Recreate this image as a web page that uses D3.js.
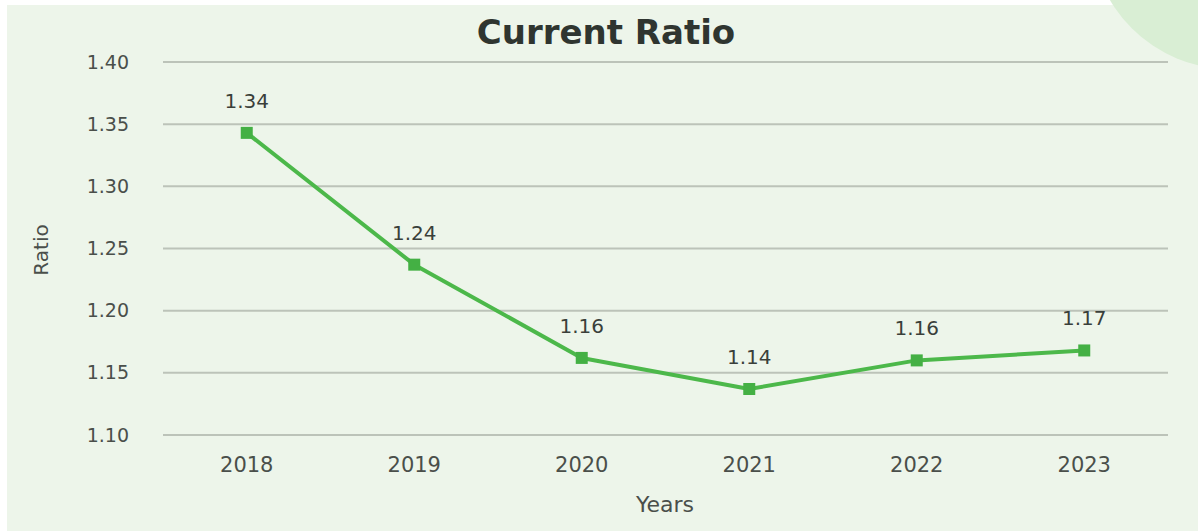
<!DOCTYPE html>
<html>
<head>
<meta charset="utf-8">
<script src="https://cdn.jsdelivr.net/npm/d3@7"></script>
<style>
  body { margin: 0; background: #fff; }
  text { font-family: "DejaVu Sans", sans-serif; }
</style>
</head>
<body>
<svg id="chart" width="1198" height="531"></svg>
<script>
// data
const years = ["2018", "2019", "2020", "2021", "2022", "2023"];
const ratios = [1.343, 1.237, 1.162, 1.137, 1.160, 1.168];
const yTicks = [1.10, 1.15, 1.20, 1.25, 1.30, 1.35, 1.40];

const width = 1198, height = 531;
const margin = { top: 62, right: 30, bottom: 96, left: 163 };

const svg = d3.select("#chart");

// background panel + corner decoration
svg.append("rect")
    .attr("x", 7).attr("y", 5)
    .attr("width", width - 7).attr("height", height - 5)
    .attr("fill", "#edf5ea");
svg.append("circle")
    .attr("cx", 1230).attr("cy", -70).attr("r", 139)
    .attr("fill", "#d9eed4");

const x = d3.scaleBand()
    .domain(years)
    .range([margin.left, width - margin.right]);

const y = d3.scaleLinear()
    .domain([1.10, 1.40])
    .range([height - margin.bottom, margin.top]);

// gridlines
svg.append("g")
    .selectAll("line")
    .data(yTicks)
    .join("line")
    .attr("x1", margin.left)
    .attr("x2", width - margin.right)
    .attr("y1", d => y(d))
    .attr("y2", d => y(d))
    .attr("stroke", "#bcc3b9")
    .attr("stroke-width", 2);

// y axis
const yAxis = svg.append("g")
    .attr("transform", `translate(${margin.left},0)`)
    .call(d3.axisLeft(y).tickValues(yTicks).tickFormat(d3.format(".2f")).tickSize(0).tickPadding(34));
yAxis.select(".domain").remove();
yAxis.selectAll("text")
    .attr("font-size", 19)
    .attr("fill", "#4a4f4a");

// x axis
const xAxis = svg.append("g")
    .attr("transform", `translate(0,${height - margin.bottom})`)
    .call(d3.axisBottom(x).tickSize(0).tickPadding(22));
xAxis.select(".domain").remove();
xAxis.selectAll("text")
    .attr("font-size", 21)
    .attr("fill", "#4a4f4a");

// axis titles
svg.append("text")
    .attr("transform", "translate(48,250) rotate(-90)")
    .attr("text-anchor", "middle")
    .attr("font-size", 20)
    .attr("fill", "#4a4f4a")
    .text("Ratio");

svg.append("text")
    .attr("x", 665).attr("y", 512)
    .attr("text-anchor", "middle")
    .attr("font-size", 22)
    .attr("fill", "#4a4f4a")
    .text("Years");

// title
svg.append("text")
    .attr("x", 606).attr("y", 44)
    .attr("text-anchor", "middle")
    .attr("font-size", 34)
    .attr("font-weight", "bold")
    .attr("fill", "#2f3530")
    .text("Current Ratio");

// line
const pts = years.map((yr, i) => ({ year: yr, value: ratios[i] }));
const line = d3.line()
    .x(d => x(d.year) + x.bandwidth() / 2)
    .y(d => y(d.value));

svg.append("path")
    .datum(pts)
    .attr("d", line)
    .attr("fill", "none")
    .attr("stroke", "#4cb84a")
    .attr("stroke-width", 4)
    .attr("stroke-linejoin", "round");

// markers
svg.append("g")
    .selectAll("rect")
    .data(pts)
    .join("rect")
    .attr("x", d => x(d.year) + x.bandwidth() / 2 - 6)
    .attr("y", d => y(d.value) - 6)
    .attr("width", 12).attr("height", 12)
    .attr("fill", "#44b044");

// data labels
svg.append("g")
    .selectAll("text")
    .data(pts)
    .join("text")
    .attr("x", d => x(d.year) + x.bandwidth() / 2)
    .attr("y", d => y(d.value) - 25)
    .attr("text-anchor", "middle")
    .attr("font-size", 20)
    .attr("fill", "#3a3f3a")
    .text(d => d3.format(".2f")(d.value));
</script>
</body>
</html>
